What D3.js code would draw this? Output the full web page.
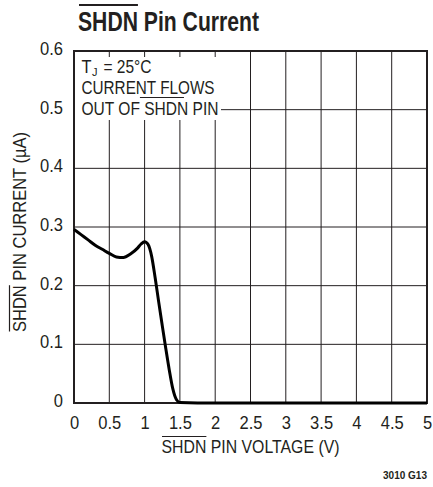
<!DOCTYPE html>
<html><head><meta charset="utf-8">
<script src="https://cdn.jsdelivr.net/npm/d3@7"></script>
<style>
html,body{margin:0;padding:0;background:#fff;}
text{font-family:"Liberation Sans",Arial,sans-serif;fill:#231f20;}
</style></head>
<body><svg id="c" width="433" height="487"></svg>
<script>
// data
const voltage = [0,0.1,0.2,0.3,0.4,0.5,0.6,0.7,0.8,0.9,0.95,1.0,1.05,1.1,1.15,1.2,1.25,1.3,1.35,1.4,1.45,1.5,2,2.5,3,3.5,4,4.5,5];
const current = [0.296,0.287,0.278,0.269,0.262,0.255,0.249,0.248,0.254,0.264,0.271,0.275,0.270,0.250,0.213,0.172,0.132,0.093,0.056,0.024,0.006,0.001,0,0,0,0,0,0,0];
const xTicks = [0,0.5,1,1.5,2,2.5,3,3.5,4,4.5,5];
const xTickLabels = ["0","0.5","1","1.5","2","2.5","3","3.5","4","4.5","5"];
const yTicks = [0,0.1,0.2,0.3,0.4,0.5,0.6];
const yTickLabels = ["0","0.1","0.2","0.3","0.4","0.5","0.6"];

const svg = d3.select("#c");
const L=74,R=427,T=51,B=403;
const x = d3.scaleLinear().domain([0,5]).range([L,R]);
const y = d3.scaleLinear().domain([0,0.6]).range([B,T]);
const ink="#231f20";
const FS=19;

function textWidth(str,size,weight){
  const t=svg.append("text").attr("font-size",size).attr("font-weight",weight||"normal").text(str);
  const w=t.node().getComputedTextLength(); t.remove(); return w;
}
// squeeze text to a target width; returns the horizontal scale
function fit(sel,target){
  const w=sel.node().getComputedTextLength();
  sel.attr("textLength",target).attr("lengthAdjust","spacingAndGlyphs");
  return target/w;
}

// grid
const grid=svg.append("g");
grid.selectAll("line.v").data(xTicks).enter().append("line")
  .attr("x1",d=>x(d)).attr("x2",d=>x(d)).attr("y1",T).attr("y2",B)
  .attr("stroke",ink).attr("stroke-width",1);
grid.selectAll("line.h").data(yTicks).enter().append("line")
  .attr("y1",d=>y(d)).attr("y2",d=>y(d)).attr("x1",L).attr("x2",R)
  .attr("stroke",ink).attr("stroke-width",1);

// white box for annotation
svg.append("rect").attr("x",L+1).attr("y",57).attr("width",146).attr("height",63).attr("fill","#fff");

// border
svg.append("rect").attr("x",L).attr("y",T).attr("width",R-L).attr("height",B-T)
  .attr("fill","none").attr("stroke",ink).attr("stroke-width",2);

// tick label squeeze ratio: "0.5" ≈ 23px
const tickRatio = 23/textWidth("0.5",FS);

const xAxis = d3.axisBottom(x).tickValues(xTicks).tickFormat((d,i)=>xTickLabels[i]).tickSize(0).tickPadding(0);
const gx=svg.append("g").attr("transform",`translate(0,${B})`).call(xAxis);
gx.select(".domain").remove();
gx.selectAll("text").attr("font-size",FS).attr("font-family",null).attr("fill",ink).attr("dy",null).attr("y",25.5)
  .each(function(){ const w=this.getComputedTextLength(); d3.select(this).attr("textLength",w*tickRatio).attr("lengthAdjust","spacingAndGlyphs"); });

const yAxis = d3.axisLeft(y).tickValues(yTicks).tickFormat((d,i)=>yTickLabels[i]).tickSize(0).tickPadding(0);
const gy=svg.append("g").attr("transform",`translate(${L},0)`).call(yAxis);
gy.select(".domain").remove();
gy.selectAll("text").attr("font-size",FS).attr("font-family",null).attr("fill",ink).attr("x",-11).attr("y",-3).attr("dy","0.35em")
  .each(function(){ const w=this.getComputedTextLength(); d3.select(this).attr("textLength",w*tickRatio).attr("lengthAdjust","spacingAndGlyphs"); });

// curve
const line=d3.line().x((d,i)=>x(voltage[i])).y((d,i)=>y(current[i])).curve(d3.curveMonotoneX);
svg.append("path").datum(current).attr("d",line).attr("fill","none").attr("stroke","#000")
  .attr("stroke-width",3).attr("stroke-linejoin","round");

// title
const tx=78, ty=31;
const title=svg.append("text").attr("x",tx).attr("y",ty).attr("font-size",28).attr("font-weight","bold").text("SHDN Pin Current");
const ts=fit(title,181);
const wS=textWidth("SHDN",28,"bold")*ts;
svg.append("line").attr("x1",tx+1).attr("x2",tx+wS).attr("y1",5).attr("y2",5).attr("stroke",ink).attr("stroke-width",1.8);

// x axis title
const xlab="SHDN PIN VOLTAGE (V)";
const xs0=161.5;
const xt=svg.append("text").attr("x",xs0).attr("y",453).attr("font-size",FS).text(xlab);
const xsc=fit(xt,178);
svg.append("line").attr("x1",xs0+0.5).attr("x2",xs0+textWidth("SHDN",FS)*xsc).attr("y1",436.5).attr("y2",436.5).attr("stroke",ink).attr("stroke-width",1.2);

// y axis title
const ylab="SHDN PIN CURRENT (\u00B5A)";
const ylen=200, ybot=232+ylen/2;
const yt=svg.append("text").attr("transform",`translate(26,${ybot}) rotate(-90)`).attr("font-size",FS).text(ylab);
const ysc=fit(yt,ylen);
svg.append("line").attr("x1",9.5).attr("x2",9.5).attr("y1",ybot-0.5).attr("y2",ybot-textWidth("SHDN",FS)*ysc).attr("stroke",ink).attr("stroke-width",1.2);

// annotation
const ax=81.5;
const tT=svg.append("text").attr("x",ax).attr("y",73).attr("font-size",FS).text("T");
fit(tT,10);
const tJ=svg.append("text").attr("x",ax+10.5).attr("y",76).attr("font-size",11).text("J");
fit(tJ,5.5);
const tEq=svg.append("text").attr("x",103.5).attr("y",73).attr("font-size",FS).text("= 25\u00B0C");
fit(tEq,48);
fit(svg.append("text").attr("x",ax).attr("y",94).attr("font-size",FS).text("CURRENT FLOWS"),133);
const t3=svg.append("text").attr("x",ax).attr("y",115).attr("font-size",FS).text("OUT OF SHDN PIN");
const s3=fit(t3,137);
const wo=textWidth("OUT OF ",FS)*s3, wsh=textWidth("SHDN",FS)*s3;
svg.append("line").attr("x1",ax+wo).attr("x2",ax+wo+wsh).attr("y1",97.5).attr("y2",97.5).attr("stroke",ink).attr("stroke-width",1.2);

// code
const code=svg.append("text").attr("x",383).attr("y",479).attr("font-size",11).attr("font-weight","bold").text("3010 G13");
fit(code,44);
</script></body></html>
